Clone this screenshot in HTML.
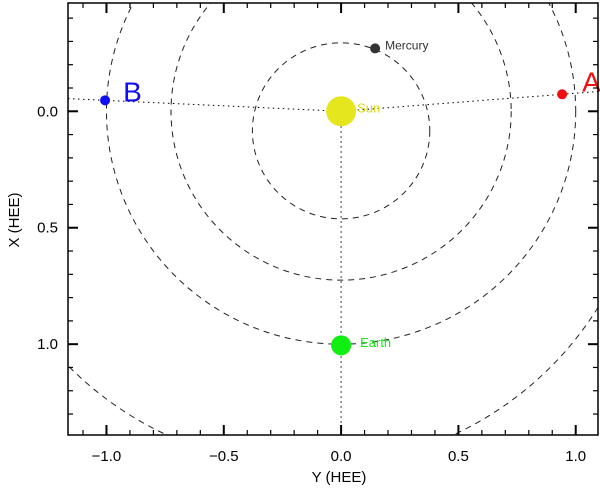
<!DOCTYPE html>
<html><head><meta charset="utf-8"><style>
html,body{margin:0;padding:0;background:#fff}
svg{display:block;font-family:"Liberation Sans",sans-serif}
</style></head><body>
<svg id="c" width="600" height="488" viewBox="0 0 600 488">
<defs><clipPath id="clip"><rect x="68" y="3" width="530" height="432"/></clipPath></defs>
<g id="orbits" clip-path="url(#clip)"></g>
<g id="marks"></g>
<g id="axes"></g>
</svg>
<script>
// data coords: horizontal = Y (HEE), vertical = X (HEE), downward positive
const orbitNames = ['mercury-orbit','venus-orbit','earth-orbit','mars-orbit'];
const orbitCx = [0, 0, 0, -0.1325];
const orbitCy = [0.084, 0, 0, 0.08];
const orbitR = [0.378, 0.725, 1.0, 1.445];
const bodyNames = ['sun','mercury','earth','stereo-b','stereo-a'];
const bodyY = [0, 0.145, 0, -1.006, 0.942];
const bodyX = [0, -0.27, 1.005, -0.047, -0.073];
const bodyLabels = ['Sun','Mercury','Earth','B','A'];
const xTicks = [-1.0, -0.5, 0.0, 0.5, 1.0];
const yTicks = [0.0, 0.5, 1.0];

const L=68,R=598,T=3,B=435;
const xmin=-1.164,xmax=1.095,ymin=-0.465,ymax=1.39;
const sx=v=>L+(v-xmin)/(xmax-xmin)*(R-L);
const sy=v=>T+(v-ymin)/(ymax-ymin)*(B-T);
const NS='http://www.w3.org/2000/svg';
function mk(tag,attrs,parent){const e=document.createElementNS(NS,tag);for(const k in attrs)e.setAttribute(k,attrs[k]);parent.appendChild(e);return e;}
const gO=document.getElementById('orbits'),gM=document.getElementById('marks'),gA=document.getElementById('axes');
const kx=(R-L)/(xmax-xmin), ky=(B-T)/(ymax-ymin);
for(let i=0;i<orbitR.length;i++){
  const e=mk('ellipse',{cx:sx(orbitCx[i]),cy:sy(orbitCy[i]),rx:orbitR[i]*kx,ry:orbitR[i]*ky,fill:'none',stroke:'#222','stroke-width':1,'stroke-dasharray':'6,5'},gO);
  
  
}
function extend(x0,y0,x1,y1,xe){const t=(xe-x0)/(x1-x0);return [xe,y0+t*(y1-y0)];}
const pl=extend(0,0,bodyY[3],bodyX[3],xmin), pr=extend(0,0,bodyY[4],bodyX[4],xmax);
const hl=mk('polyline',{points:`${sx(pl[0])},${sy(pl[1])} ${sx(0)},${sy(0)} ${sx(pr[0])},${sy(pr[1])}`,fill:'none',stroke:'#000','stroke-width':1,'stroke-dasharray':'1.5,3.5'},gO);


const vl=mk('line',{x1:sx(0),y1:sy(0),x2:sx(0),y2:B,stroke:'#000','stroke-width':1,'stroke-dasharray':'1.5,3.5'},gO);


const colors=['#e6e61e','#333','#11ee11','#1010ee','#ee1010'];
const radii=[15,5,10,5,5];
const lblDx=[16,10,19,18,20], lblDy=[-2,-2,-2,-6,-10], lblSize=[13,12,13,28,28];
for(let i=0;i<bodyNames.length;i++){
  const c=mk('circle',{cx:sx(bodyY[i]),cy:sy(bodyX[i]),r:radii[i],fill:colors[i]},gM);
  
  
  const t=mk('text',{x:sx(bodyY[i])+lblDx[i],y:sy(bodyX[i])+lblDy[i],fill:colors[i]==='#e6e61e'?'#dada10':colors[i],'font-size':lblSize[i],'dominant-baseline':'middle'},gM);
  t.textContent=bodyLabels[i];
  
  
}
const box=mk('rect',{x:L,y:T,width:R-L,height:B-T,fill:'none',stroke:'#000','stroke-width':1.5},gA);


for(let v=-1.1;v<=1.05;v+=0.1){
  const vv=Math.round(v*10)/10, maj=Math.abs(vv*2-Math.round(vv*2))<1e-6, len=maj?10:5;
  const x=sx(vv);
  mk('line',{x1:x,y1:B,x2:x,y2:B-len,stroke:'#000','stroke-width':maj?2:1.2},gA);
  mk('line',{x1:x,y1:T,x2:x,y2:T+len,stroke:'#000','stroke-width':maj?2:1.2},gA);
}
for(let v=-0.4;v<=1.35;v+=0.1){
  const vv=Math.round(v*10)/10, maj=Math.abs(vv*2-Math.round(vv*2))<1e-6, len=maj?10:5;
  const y=sy(vv);
  mk('line',{x1:L,y1:y,x2:L+len,y2:y,stroke:'#000','stroke-width':maj?2:1.2},gA);
  mk('line',{x1:R,y1:y,x2:R-len,y2:y,stroke:'#000','stroke-width':maj?2:1.2},gA);
}
xTicks.forEach(v=>{const t=mk('text',{x:sx(v),y:461,'text-anchor':'middle','font-size':15,fill:'#000'},gA);t.textContent=v.toFixed(1).replace('-','\u2212');
  
  });
yTicks.forEach(v=>{const t=mk('text',{x:58,y:sy(v)+5,'text-anchor':'end','font-size':15,fill:'#000'},gA);t.textContent=v.toFixed(1);
  
  });
const xt=mk('text',{x:339,y:482,'text-anchor':'middle','font-size':15,fill:'#000'},gA);xt.textContent='Y (HEE)';


const yt=mk('text',{x:0,y:0,'text-anchor':'middle','font-size':15,fill:'#000',transform:'translate(19,220) rotate(-90)'},gA);yt.textContent='X (HEE)';


</script>
</body></html>
